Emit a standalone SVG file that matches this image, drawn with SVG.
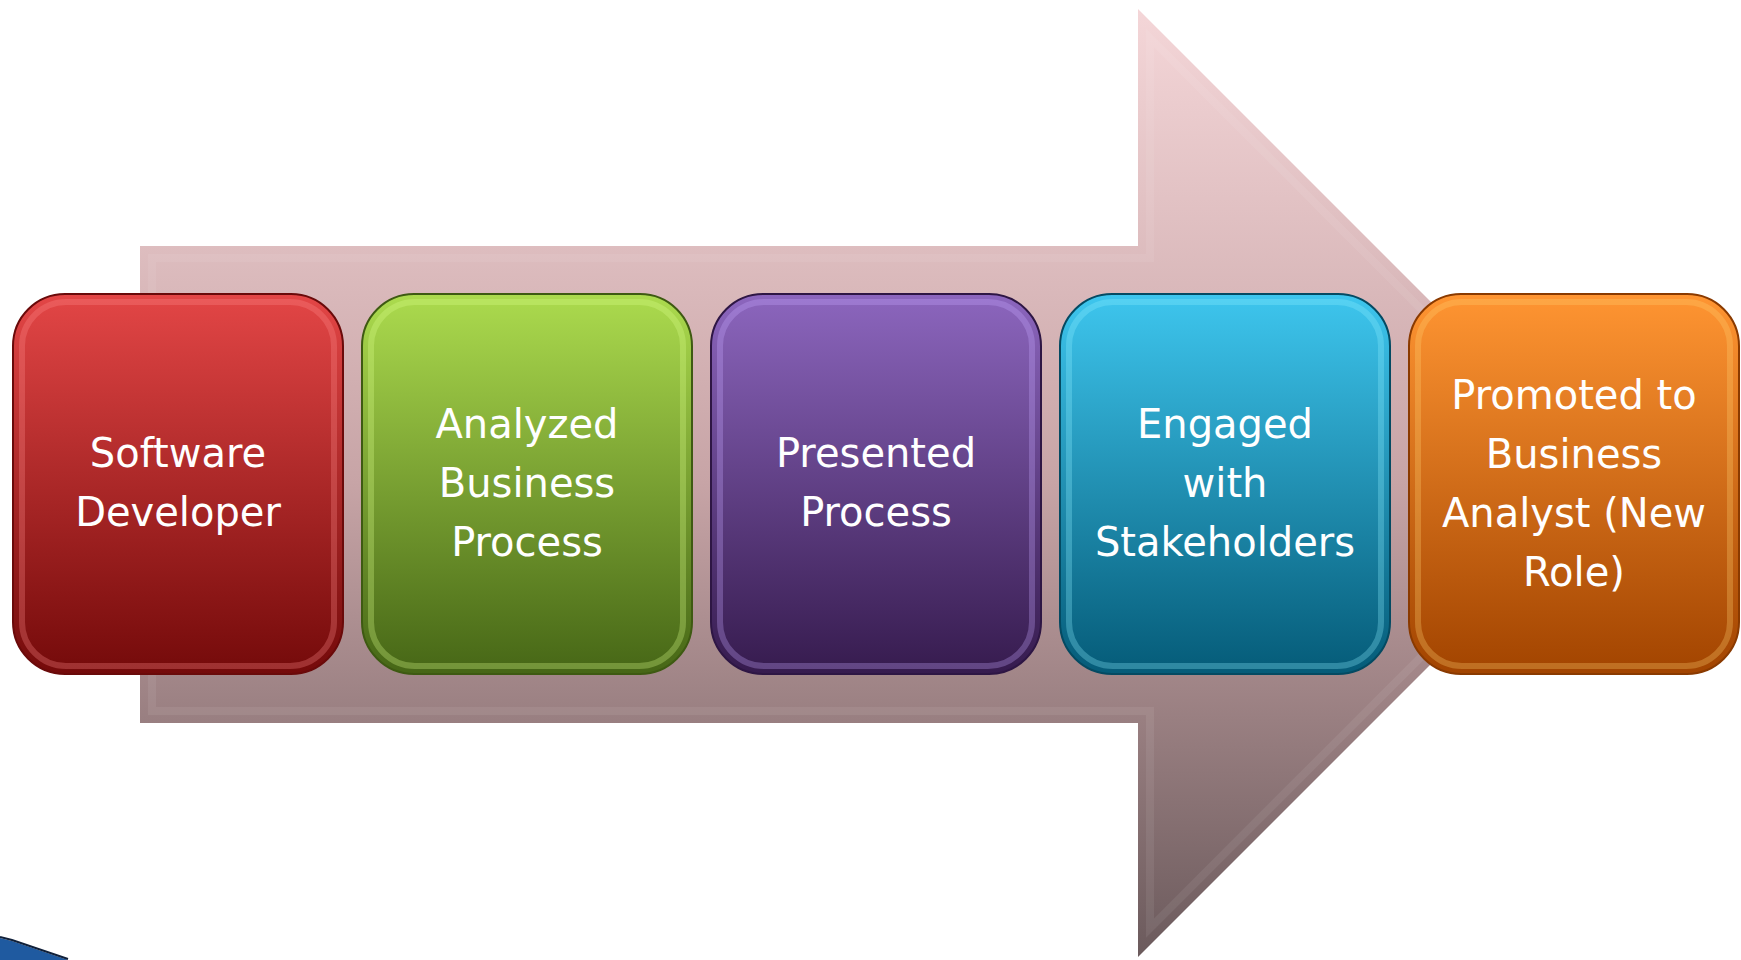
<svg xmlns="http://www.w3.org/2000/svg" width="1741" height="960" viewBox="0 0 1741 960">
<style>
.lbl{font-family:"DejaVu Sans","Liberation Sans",sans-serif;font-size:40px;fill:#ffffff;text-anchor:middle}
.box{stroke-width:2}
.rim{fill:none;stroke-width:6;stroke-opacity:0.3}
</style>
<defs>
<linearGradient id="gArrow" gradientUnits="userSpaceOnUse" x1="0" y1="9" x2="0" y2="957">
<stop offset="0" stop-color="#f4d6d8"/><stop offset="0.5" stop-color="#c7a4a6"/><stop offset="1" stop-color="#6b5a5c"/>
</linearGradient>
<linearGradient id="gRed" x1="0" y1="0" x2="0" y2="1"><stop offset="0" stop-color="#e34646"/><stop offset="1" stop-color="#740a0a"/></linearGradient>
<linearGradient id="gGreen" x1="0" y1="0" x2="0" y2="1"><stop offset="0" stop-color="#acdb4e"/><stop offset="1" stop-color="#466616"/></linearGradient>
<linearGradient id="gPurple" x1="0" y1="0" x2="0" y2="1"><stop offset="0" stop-color="#8c66be"/><stop offset="1" stop-color="#361b4e"/></linearGradient>
<linearGradient id="gBlue" x1="0" y1="0" x2="0" y2="1"><stop offset="0" stop-color="#3ec6ee"/><stop offset="1" stop-color="#055b78"/></linearGradient>
<linearGradient id="gOrange" x1="0" y1="0" x2="0" y2="1"><stop offset="0" stop-color="#ff9532"/><stop offset="1" stop-color="#a24400"/></linearGradient>
</defs>
<rect width="1741" height="960" fill="#ffffff"/>
<g id="connectors">
<polygon points="140,246 1138,246 1138,9 1612,483 1138,957 1138,723 140,723" fill="url(#gArrow)"/>
<polygon points="152,258 1150,258 1150,38 1595,483 1150,928 1150,711 152,711" fill="none" stroke="#ffffff" stroke-opacity="0.07" stroke-width="8"/>
</g>
<g id="swoosh">
<polygon points="0,938 12,941 68,960 0,960" fill="#1f5aa0"/>
<polyline points="0,937 12,940 68,959" fill="none" stroke="#10203a" stroke-width="2"/>
</g>
<g id="node1">
<rect class="box" x="13" y="294" width="330" height="380" rx="52" fill="url(#gRed)" stroke="#6a0a0a"/>
<rect class="rim" x="22" y="302" width="312" height="364" rx="44" stroke="#ff8a8a"/>
<text class="lbl" x="178" y="467">Software</text>
<text class="lbl" x="178" y="526">Developer</text>
</g>
<g id="node2">
<rect class="box" x="362" y="294" width="330" height="380" rx="52" fill="url(#gGreen)" stroke="#3e5a12"/>
<rect class="rim" x="371" y="302" width="312" height="364" rx="44" stroke="#dcff8a"/>
<text class="lbl" x="527" y="438">Analyzed</text>
<text class="lbl" x="527" y="497">Business</text>
<text class="lbl" x="527" y="556">Process</text>
</g>
<g id="node3">
<rect class="box" x="711" y="294" width="330" height="380" rx="52" fill="url(#gPurple)" stroke="#2e1644"/>
<rect class="rim" x="720" y="302" width="312" height="364" rx="44" stroke="#c8a8ff"/>
<text class="lbl" x="876" y="467">Presented</text>
<text class="lbl" x="876" y="526">Process</text>
</g>
<g id="node4">
<rect class="box" x="1060" y="294" width="330" height="380" rx="52" fill="url(#gBlue)" stroke="#044a62"/>
<rect class="rim" x="1069" y="302" width="312" height="364" rx="44" stroke="#8ef0ff"/>
<text class="lbl" x="1225" y="438">Engaged</text>
<text class="lbl" x="1225" y="497">with</text>
<text class="lbl" x="1225" y="556">Stakeholders</text>
</g>
<g id="node5">
<rect class="box" x="1409" y="294" width="330" height="380" rx="52" fill="url(#gOrange)" stroke="#8a3a00"/>
<rect class="rim" x="1418" y="302" width="312" height="364" rx="44" stroke="#ffd070"/>
<text class="lbl" x="1574" y="409">Promoted to</text>
<text class="lbl" x="1574" y="468">Business</text>
<text class="lbl" x="1574" y="527">Analyst (New</text>
<text class="lbl" x="1574" y="586">Role)</text>
</g>
</svg>
